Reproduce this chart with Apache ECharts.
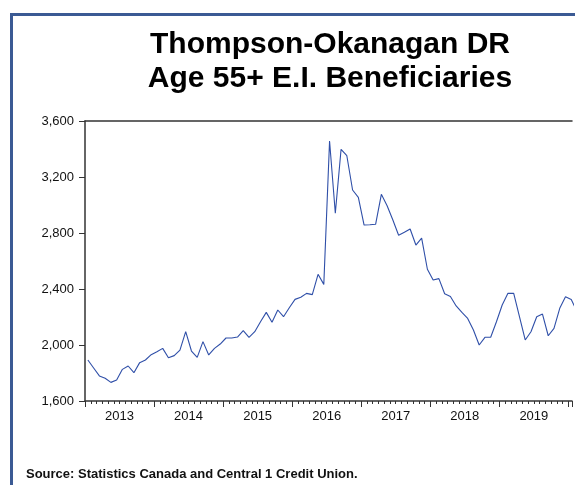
<!DOCTYPE html>
<html>
<head>
<meta charset="utf-8">
<script src="https://cdn.jsdelivr.net/npm/echarts@6/dist/echarts.min.js"></script>
<style>
  html, body { margin: 0; padding: 0; background: #fff; }
  #chart { width: 575px; height: 485px; }
</style>
</head>
<body>
<div id="chart"></div>
<script>
// ---- data ----
const startYear = 2013;
const yearLabels = ['2013', '2014', '2015', '2016', '2017', '2018', '2019'];
const yTicks = [1600, 2000, 2400, 2800, 3200, 3600];
const months = [];
for (let y = 2013; y <= 2020; y++) {
  for (let m = 1; m <= 12; m++) {
    const s = y + '-' + String(m).padStart(2, '0');
    months.push(s);
    if (s === '2020-02') break;
  }
}
const beneficiaries = [
  1893, 1836, 1779, 1762, 1733, 1750, 1826, 1850, 1802, 1874, 1893, 1931,
  1952, 1976, 1909, 1924, 1964, 2095, 1957, 1912, 2024, 1929, 1976, 2007,
  2050, 2050, 2057, 2102, 2055, 2095, 2166, 2233, 2162, 2250, 2202, 2266,
  2326, 2341, 2369, 2360, 2505, 2433, 3457, 2941, 3398, 3352, 3107, 3055,
  2857, 2859, 2862, 3076, 2995, 2893, 2784, 2805, 2829, 2714, 2764, 2541,
  2464, 2474, 2366, 2347, 2279, 2233, 2190, 2107, 2000, 2055, 2055, 2166,
  2286, 2369, 2369, 2202, 2036, 2095, 2202, 2221, 2066, 2119, 2262, 2345,
  2325, 2240
];

// month index (mid-month) from Jan 2013
const seriesData = months.slice(0, beneficiaries.length).map((s, i) => {
  const [y, m] = s.split('-').map(Number);
  return [(y - startYear) * 12 + (m - 1) + 0.5, beneficiaries[i]];
});

const axisColor = '#333';
const font = '"Liberation Sans", Arial, sans-serif';
const xMax = 84.63;

const chart = echarts.init(document.getElementById('chart'), null, { renderer: 'canvas' });
chart.setOption({
  animation: false,
  backgroundColor: '#fff',
  grid: { left: 85, right: 0, top: 121, height: 280, containLabel: false },
  xAxis: [
    {
      type: 'value', min: 0, max: xMax, interval: 12,
      axisLine: { show: true, lineStyle: { color: axisColor, width: 1.5 } },
      axisTick: { show: true, inside: false, length: 6, lineStyle: { color: axisColor, width: 1 } },
      minorTick: { show: true, splitNumber: 12, length: 3, lineStyle: { color: axisColor, width: 1 } },
      axisLabel: { show: false },
      splitLine: { show: false }
    },
    {
      type: 'value', min: 0, max: xMax, interval: 6, position: 'bottom', offset: 0,
      axisLine: { show: false },
      axisTick: { show: false },
      splitLine: { show: false },
      axisLabel: {
        show: true, margin: 9, fontSize: 13, color: '#111', fontFamily: font,
        formatter: v => (v % 12 === 6 ? (yearLabels[(v - 6) / 12] || '') : '')
      }
    },
    {
      type: 'value', min: 0, max: xMax, position: 'top',
      axisLine: { show: true, lineStyle: { color: axisColor, width: 1.5 } },
      axisTick: { show: false }, axisLabel: { show: false }, splitLine: { show: false }
    }
  ],
  yAxis: {
    type: 'value', min: yTicks[0], max: yTicks[yTicks.length - 1], interval: 400,
    axisLine: { show: true, lineStyle: { color: axisColor, width: 1.5 } },
    axisTick: { show: true, inside: false, length: 6, lineStyle: { color: axisColor, width: 1 } },
    splitLine: { show: false },
    axisLabel: {
      margin: 11, fontSize: 13, color: '#111', fontFamily: font,
      formatter: v => v.toLocaleString('en-US')
    }
  },
  series: [{
    type: 'line',
    xAxisIndex: 0,
    data: seriesData,
    symbol: 'none',
    lineStyle: { color: '#2f4fa8', width: 1.1 },
    clip: true
  }],
  graphic: [
    {
      type: 'rect', silent: true, z: 10,
      shape: { x: 11.5, y: 14.5, width: 800, height: 800 },
      style: { fill: 'none', stroke: '#3b5a94', lineWidth: 3 }
    },
    {
      type: 'text', x: 330, y: 45, z: 10,
      style: { text: 'Thompson-Okanagan DR', font: 'bold 30px ' + font, fill: '#000', align: 'center', verticalAlign: 'middle' }
    },
    {
      type: 'text', x: 330, y: 79, z: 10,
      style: { text: 'Age 55+ E.I. Beneficiaries', font: 'bold 30px ' + font, fill: '#000', align: 'center', verticalAlign: 'middle' }
    },
    {
      type: 'text', x: 26, y: 474, z: 10,
      style: { text: 'Source: Statistics Canada and Central 1 Credit Union.', font: 'bold 13px ' + font, fill: '#111', align: 'left', verticalAlign: 'middle' }
    }
  ]
});
</script>
</body>
</html>
